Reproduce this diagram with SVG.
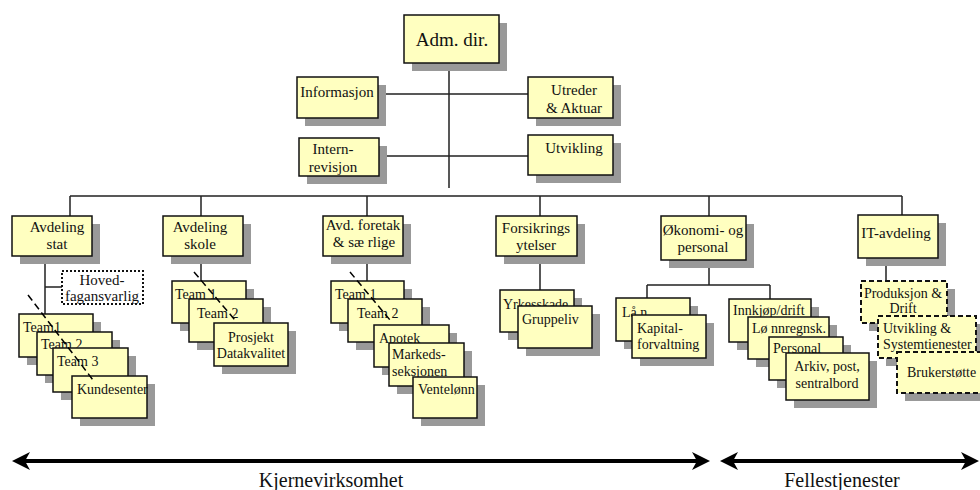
<svg xmlns="http://www.w3.org/2000/svg" width="980" height="490" viewBox="0 0 980 490">
<style>
.s{fill:#999}
.b{fill:#FFFFC0;stroke:#111;stroke-width:1.5}
.bd{fill:#FFFFC0;stroke:#111;stroke-width:2;stroke-dasharray:5 3}
.bo{fill:#fff;stroke:#111;stroke-width:2;stroke-dasharray:2 2}
text{font-family:"Liberation Serif","Times New Roman",serif;fill:#111}
.f19{font-size:19px}
.f15{font-size:15px}
.f14{font-size:14px}
.c{text-anchor:middle}
.ln{stroke:#222;stroke-width:1.5;fill:none}
.dg{stroke:#000;stroke-width:1.5;stroke-dasharray:7 4;fill:none}
.ar{stroke:#000;stroke-width:4;fill:none}
.ah{fill:#000}
</style>
<rect width="980" height="490" fill="#fff"/>
<g id="connectors">
<path class="ln" d="M449 63V188M378 94H528M379 156H528M70 196H902M70 196V216M201 196V216M367 196V216M540 196V216M709 196V216M902 196V215"/>
<path class="ln" d="M45 256V314M45 287H62M201 256V281M367 256V281M540 256V290M709 260V285M647 285H770M647 285V298M770 285V299M886 258V281"/>
</g>
<g id="adm"><rect class="s" x="412" y="23" width="95" height="48"/><rect class="b" x="404" y="15" width="95" height="48"/><text class="f19 c" x="452" y="46">Adm. dir.</text></g>
<g id="informasjon"><rect class="s" x="305" y="85" width="81" height="41"/><rect class="b" x="297" y="77" width="81" height="41"/><text class="f15 c" x="337" y="97">Informasjon</text></g>
<g id="utreder"><rect class="s" x="536" y="85" width="85" height="41"/><rect class="b" x="528" y="77" width="85" height="41"/><text class="f15 c" x="574" y="95">Utreder</text><text class="f15 c" x="574" y="113">&amp; Aktuar</text></g>
<g id="internrevisjon"><rect class="s" x="307" y="146" width="80" height="38"/><rect class="b" x="299" y="138" width="80" height="38"/><text class="f15 c" x="333" y="154">Intern-</text><text class="f15 c" x="333" y="172">revisjon</text></g>
<g id="utvikling"><rect class="s" x="536" y="143" width="85" height="40"/><rect class="b" x="528" y="135" width="85" height="40"/><text class="f15 c" x="574" y="153">Utvikling</text></g>

<g id="avd-stat"><rect class="s" x="20" y="224" width="80" height="40"/><rect class="b" x="12" y="216" width="80" height="40"/><text class="f15 c" x="57" y="232">Avdeling</text><text class="f15 c" x="57" y="249">stat</text></g>
<g id="avd-skole"><rect class="s" x="171" y="224" width="80" height="40"/><rect class="b" x="163" y="216" width="80" height="40"/><text class="f15 c" x="200" y="232">Avdeling</text><text class="f15 c" x="200" y="249">skole</text></g>
<g id="avd-foretak"><rect class="s" x="331" y="224" width="80" height="40"/><rect class="b" x="323" y="216" width="80" height="40"/><text class="f15 c" x="363" y="230">Avd. foretak</text><text class="f15 c" x="364" y="247">&amp; sæ rlige</text></g>
<g id="forsikring"><rect class="s" x="504" y="224" width="81" height="40"/><rect class="b" x="496" y="216" width="81" height="40"/><text class="f15 c" x="536" y="233">Forsikrings</text><text class="f15 c" x="536" y="250">ytelser</text></g>
<g id="okonomi"><rect class="s" x="669" y="224" width="85" height="44"/><rect class="b" x="661" y="216" width="85" height="44"/><text class="f15 c" x="703" y="235">Økonomi- og</text><text class="f15 c" x="703" y="252">personal</text></g>
<g id="it"><rect class="s" x="866" y="223" width="80" height="43"/><rect class="b" x="858" y="215" width="80" height="43"/><text class="f15 c" x="896" y="238">IT-avdeling</text></g>

<g id="hovedfag"><rect class="bo" x="62" y="271" width="81" height="33"/><text class="f15 c" x="102" y="285">Hoved-</text><text class="f15 c" x="102" y="301">fagansvarlig</text></g>

<g id="stat-team1"><rect class="s" x="27" y="322" width="74" height="43"/><rect class="b" x="19" y="314" width="74" height="43"/><text class="f14" x="23" y="332">Team1</text></g>
<g id="stat-team2"><rect class="s" x="45" y="340" width="75" height="43"/><rect class="b" x="37" y="332" width="75" height="43"/><text class="f14" x="41" y="349">Team 2</text></g>
<g id="stat-team3"><rect class="s" x="61" y="356" width="75" height="44"/><rect class="b" x="53" y="348" width="75" height="44"/><text class="f14" x="57" y="366">Team 3</text></g>
<g id="kundesenter"><rect class="s" x="80" y="384" width="75" height="42"/><rect class="b" x="72" y="376" width="75" height="42"/><text class="f14" x="77" y="394">Kundesenter</text></g>

<g id="skole-team1"><rect class="s" x="180" y="289" width="74" height="42"/><rect class="b" x="172" y="281" width="74" height="42"/><text class="f14" x="175" y="299">Team 1</text></g>
<g id="skole-team2"><rect class="s" x="197" y="307" width="74" height="43"/><rect class="b" x="189" y="299" width="74" height="43"/><text class="f14" x="197" y="318">Team 2</text></g>
<g id="prosjekt"><rect class="s" x="222" y="331" width="74" height="43"/><rect class="b" x="214" y="323" width="74" height="43"/><text class="f14 c" x="251" y="342">Prosjekt</text><text class="f14 c" x="251" y="358">Datakvalitet</text></g>

<g id="foretak-team1"><rect class="s" x="339" y="289" width="73" height="42"/><rect class="b" x="331" y="281" width="73" height="42"/><text class="f14" x="335" y="299">Team 1</text></g>
<g id="foretak-team2"><rect class="s" x="356" y="307" width="74" height="43"/><rect class="b" x="348" y="299" width="74" height="43"/><text class="f14" x="357" y="318">Team 2</text></g>
<g id="apotek"><rect class="s" x="382" y="333" width="75" height="42"/><rect class="b" x="374" y="325" width="75" height="42"/><text class="f14" x="379" y="343">Apotek</text></g>
<g id="markeds"><rect class="s" x="397" y="351" width="75" height="43"/><rect class="b" x="389" y="343" width="75" height="43"/><text class="f14" x="392" y="359">Markeds-</text><text class="f14" x="392" y="376">seksjonen</text></g>
<g id="ventelonn"><rect class="s" x="421" y="385" width="64" height="41"/><rect class="b" x="413" y="377" width="64" height="41"/><text class="f14" x="418" y="394">Ventelønn</text></g>

<g id="yrkesskade"><rect class="s" x="508" y="298" width="74" height="42"/><rect class="b" x="500" y="290" width="74" height="42"/><text class="f14" x="503" y="309">Yrkesskade</text></g>
<g id="gruppeliv"><rect class="s" x="526" y="314" width="74" height="42"/><rect class="b" x="518" y="306" width="74" height="42"/><text class="f14" x="522" y="324">Gruppeliv</text></g>

<g id="lan"><rect class="s" x="624" y="306" width="74" height="43"/><rect class="b" x="616" y="298" width="74" height="43"/><text class="f14" x="622" y="317">Lå n</text></g>
<g id="kapital"><rect class="s" x="640" y="323" width="74" height="43"/><rect class="b" x="632" y="315" width="74" height="43"/><text class="f14" x="637" y="333">Kapital-</text><text class="f14" x="637" y="349">forvaltning</text></g>
<g id="innkjop"><rect class="s" x="737" y="307" width="82" height="43"/><rect class="b" x="729" y="299" width="82" height="43"/><text class="f14" x="733" y="315">Innkjøp/drift</text></g>
<g id="lonn"><rect class="s" x="756" y="325" width="81" height="42"/><rect class="b" x="748" y="317" width="81" height="42"/><text class="f14" x="752" y="333">Lø nnregnsk.</text></g>
<g id="personal"><rect class="s" x="777" y="345" width="74" height="43"/><rect class="b" x="769" y="337" width="74" height="43"/><text class="f14" x="773" y="353">Personal</text></g>
<g id="arkiv"><rect class="s" x="794" y="361" width="83" height="47"/><rect class="b" x="786" y="353" width="83" height="47"/><text class="f14 c" x="827" y="371">Arkiv, post,</text><text class="f14 c" x="827" y="388">sentralbord</text></g>

<g id="produksjon"><rect class="s" x="869" y="289" width="86" height="42"/><rect class="bd" x="861" y="281" width="86" height="42"/><text class="f14 c" x="903" y="298">Produksjon &amp;</text><text class="f14 c" x="903" y="313">Drift</text></g>
<g id="systemtjenester"><rect class="s" x="886" y="324" width="98" height="42"/><rect class="bd" x="878" y="316" width="98" height="42"/><text class="f14" x="883" y="333">Utvikling &amp;</text><text class="f14" x="883" y="349">Systemtienester</text></g>
<g id="brukerstotte"><rect class="s" x="905" y="360" width="84" height="41"/><rect class="bd" x="897" y="352" width="84" height="41"/><text class="f14" x="907" y="377">Brukerstøtte</text></g>

<g id="diagonals">
<path class="dg" d="M28 295L93 380M194 272L235 320M350 272L390 320"/>
</g>

<g id="scope-arrows">
<path class="ar" d="M22 461H700M730 461H968"/>
<path class="ah" d="M12 461L30 452L25 461L30 470ZM710 461L692 452L697 461L692 470ZM720 461L738 452L733 461L738 470ZM979 461L961 452L966 461L961 470Z"/>
<text class="c" x="331" y="487" font-size="20">Kjernevirksomhet</text>
<text class="c" x="842" y="487" font-size="20">Fellestjenester</text>
</g>
</svg>
